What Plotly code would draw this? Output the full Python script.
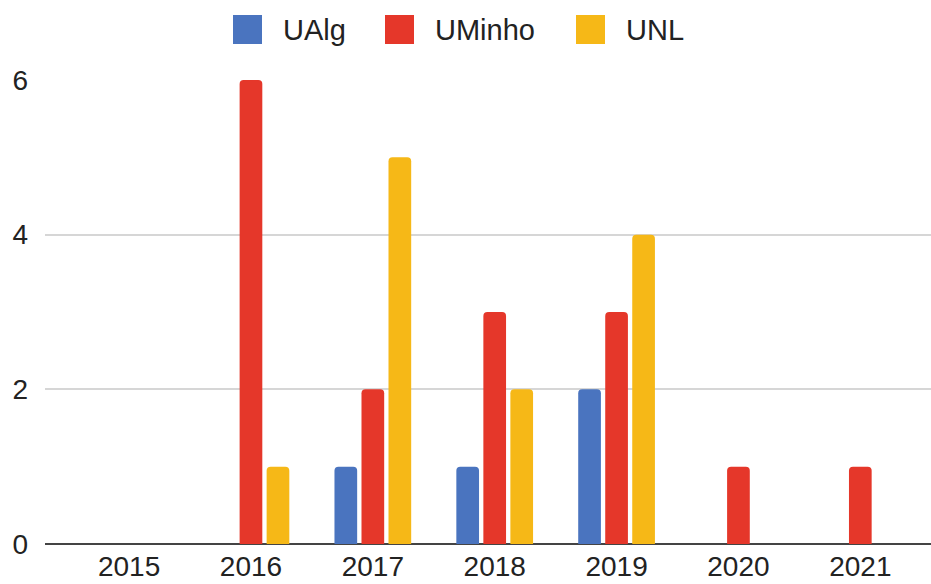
import plotly.graph_objects as go

# data
years = ['2015', '2016', '2017', '2018', '2019', '2020', '2021']
ualg = [0, 0, 1, 1, 2, 0, 0]
uminho = [0, 6, 2, 3, 3, 1, 1]
unl = [0, 1, 5, 2, 4, 0, 0]
names = ['UAlg', 'UMinho', 'UNL']
colors = ['#4a74bf', '#e5372a', '#f6b817']

W, H = 931, 584
L, R, T, B = 45, 0, 80, 40
FONT = 'Liberation Sans, Arial, sans-serif'

fig = go.Figure()
for name, vals, col in zip(names, [ualg, uminho, unl], colors):
    fig.add_trace(go.Bar(x=years, y=vals, name=name, marker_color=col,
                         marker_line_width=0, showlegend=False))

# px -> paper helpers for the hand-drawn legend
def px_x(p):
    return (p - L) / (W - L - R)

def px_y(p):
    return (H - B - p) / (H - T - B)

leg_left = [233, 385, 576]
shapes = []
annos = []
for i, name in enumerate(names):
    x0 = leg_left[i]
    shapes.append(dict(type='rect', xref='paper', yref='paper',
                       x0=px_x(x0), x1=px_x(x0 + 29), y0=px_y(44), y1=px_y(15),
                       fillcolor=colors[i], line_width=0))
    annos.append(dict(text=name, xref='paper', yref='paper', x=px_x(x0 + 48),
                      y=px_y(30), xanchor='left', yanchor='middle',
                      showarrow=False, font=dict(size=29, color='#222', family=FONT)))

fig.update_layout(
    width=W, height=H,
    margin=dict(l=L, r=R, t=T, b=B, autoexpand=False),
    paper_bgcolor='white', plot_bgcolor='white',
    barmode='group', bargap=0.335, bargroupgap=0.16, barcornerradius=4,
    font=dict(family=FONT, size=28, color='#222'),
    shapes=shapes, annotations=annos,
    xaxis=dict(type='category', range=[-0.69, 6.58], showgrid=False,
               showline=False, ticks='', automargin=False, ticklabelstandoff=3,
               tickfont=dict(size=28, color='#222')),
    yaxis=dict(range=[0, 6], tickvals=[0, 2, 4, 6], showgrid=True,
               gridcolor='#d6d6d6', gridwidth=2, zeroline=True,
               zerolinecolor='#444', zerolinewidth=2, ticks='', automargin=False,
               ticklabelstandoff=16, tickfont=dict(size=28, color='#222'),
               fixedrange=True),
)

# page body has a default 8px margin; drop it so the figure fills the window
fig.write_html("out.html", config={'displayModeBar': False},
               post_script="document.body.style.margin='0';")
